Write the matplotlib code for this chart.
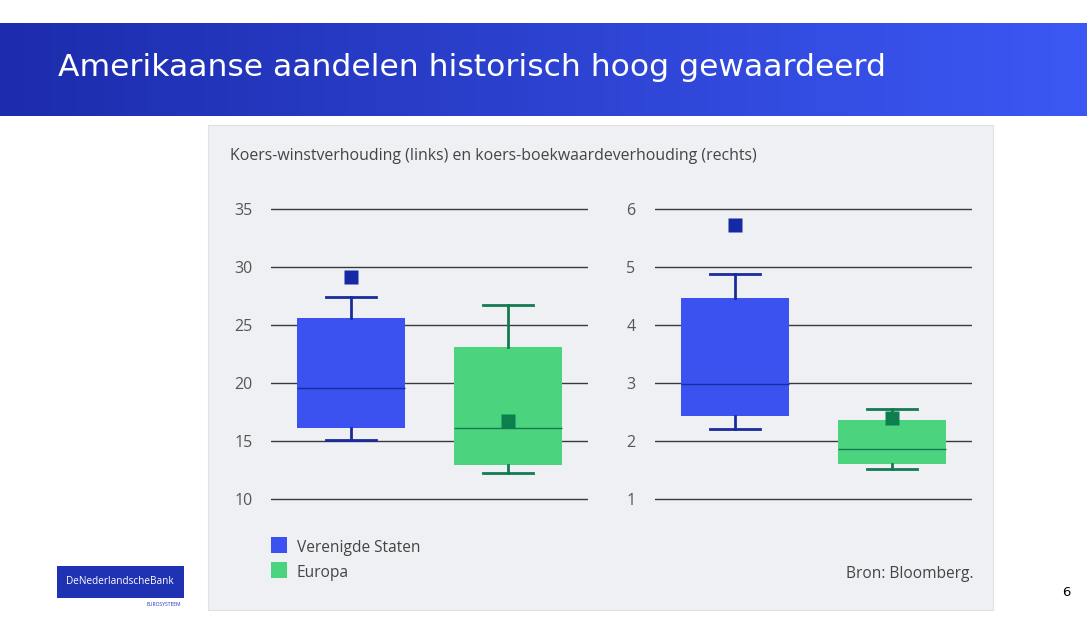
import numpy as np
import matplotlib.pyplot as plt
from matplotlib.patches import Rectangle

# data
groups = ["Verenigde Staten", "Europa"]
pe_q1 = [16.1, 12.9]
pe_med = [19.6, 16.1]
pe_q3 = [25.6, 23.1]
pe_lo = [15.1, 12.2]
pe_hi = [27.4, 26.7]
pe_now = [29.1, 16.7]

pb_q1 = [2.43, 1.60]
pb_med = [2.98, 1.86]
pb_q3 = [4.47, 2.36]
pb_lo = [2.21, 1.52]
pb_hi = [4.88, 2.55]
pb_now = [5.72, 2.40]

pe_ticks = [10, 15, 20, 25, 30, 35]
pb_ticks = [1, 2, 3, 4, 5, 6]

box_colors = ["#3b52f0", "#4bd37e"]
line_colors = ["#1a2b9c", "#137a52"]
mark_colors = ["#1429a3", "#0b7f4d"]

W, H = 1087, 627
fig = plt.figure(figsize=(W / 100, H / 100), dpi=100)
fig.patch.set_facecolor("white")


def fx(px):
    return px / W


def fy(py):
    return 1 - py / H


# header with gradient
hdr = fig.add_axes([0, fy(116), 1, fy(23) - fy(116)])
grad = np.linspace(0, 1, 256)[None, :]
c0 = np.array([0x1c, 0x2c, 0xac]) / 255
c1 = np.array([0x3c, 0x58, 0xf4]) / 255
img = c0[None, None, :] * (1 - grad[..., None]) + c1[None, None, :] * grad[..., None]
hdr.imshow(img, aspect="auto", extent=[0, 1, 0, 1])
hdr.set_axis_off()
fig.text(fx(58), fy(67), "Amerikaanse aandelen historisch hoog gewaardeerd",
         color="white", fontsize=22.6, va="center", ha="left", family="DejaVu Sans")

# chart panel (drawn behind the axes)
bg = fig.add_axes([fx(208), fy(610), fx(993) - fx(208), fy(125) - fy(610)], zorder=-5)
bg.set_facecolor("#eff0f4")
bg.set_xticks([])
bg.set_yticks([])
for s in bg.spines.values():
    s.set_color("#dfe1e7")
    s.set_linewidth(0.8)

fig.text(fx(230), fy(156), "Koers-winstverhouding (links) en koers-boekwaardeverhouding (rechts)",
         color="#444444", fontsize=11.4, va="center", ha="left", family="Open Sans")


def draw_panel(left_px, q1, med, q3, lo, hi, now, ticks, pad):
    ymin, ymax = ticks[0], ticks[-1]
    ax = fig.add_axes([fx(left_px), fy(504.8), fx(317), fy(203.2) - fy(504.8)])
    ax.set_facecolor("none")
    for i in range(len(groups)):
        st = dict(med=med[i], q1=q1[i], q3=q3[i], whislo=lo[i],
                  whishi=hi[i], mean=now[i], fliers=[], label=groups[i])
        ax.bxp([st], positions=[i + 1], widths=0.69, patch_artist=True,
               showmeans=True, showfliers=False,
               boxprops=dict(facecolor=box_colors[i], edgecolor="none"),
               medianprops=dict(color=line_colors[i], lw=1),
               whiskerprops=dict(color=line_colors[i], lw=2),
               capprops=dict(color=line_colors[i], lw=2),
               capwidths=0.32,
               meanprops=dict(marker="s", markersize=10, markerfacecolor=mark_colors[i],
                              markeredgecolor="none"))
    pad_y = (ymax - ymin) * 0.5 / 25
    ax.set_ylim(ymin - pad_y, ymax + pad_y)
    ax.set_xlim(0.49, 2.51)
    ax.set_yticks(ticks)
    ax.set_yticklabels([str(t) for t in ticks])
    ax.yaxis.grid(True, color="#3a3a3a", lw=1)
    ax.set_axisbelow(True)
    ax.set_xticks([])
    for s in ax.spines.values():
        s.set_visible(False)
    ax.tick_params(axis="y", length=0, pad=pad, labelsize=11.5, labelcolor="#555555")
    for lab in ax.get_yticklabels():
        lab.set_family("Open Sans")
    return ax


draw_panel(271, pe_q1, pe_med, pe_q3, pe_lo, pe_hi, pe_now, pe_ticks, 13)
draw_panel(655, pb_q1, pb_med, pb_q3, pb_lo, pb_hi, pb_now, pb_ticks, 14)

# legend
for i, (name, yp) in enumerate(zip(groups, [545, 570])):
    fig.patches.append(Rectangle((fx(271), fy(yp + 8)), fx(16), fy(yp - 8) - fy(yp + 8),
                                 transform=fig.transFigure, facecolor=box_colors[i],
                                 edgecolor="none"))
    fig.text(fx(297), fy(yp + 3), name, color="#444444", fontsize=11.2,
             va="center", ha="left", family="Open Sans")

fig.text(fx(973), fy(574), "Bron: Bloomberg.", color="#444444", fontsize=11.2,
         va="center", ha="right", family="Open Sans")

# logo
fig.patches.append(Rectangle((fx(57), fy(598)), fx(127), fy(566) - fy(598),
                             transform=fig.transFigure, facecolor="#1f32b4", edgecolor="none"))
fig.text(fx(120), fy(582), "DeNederlandscheBank", color="white", fontsize=7.2,
         va="center", ha="center", family="Open Sans")
fig.text(fx(181), fy(605), "EUROSYSTEEM", color="#1f32b4", fontsize=3.6,
         va="center", ha="right", family="Open Sans")

fig.text(fx(1066), fy(592), "6", color="black", fontsize=9.5, va="center", ha="center")

fig.savefig("out.png", dpi=100)
